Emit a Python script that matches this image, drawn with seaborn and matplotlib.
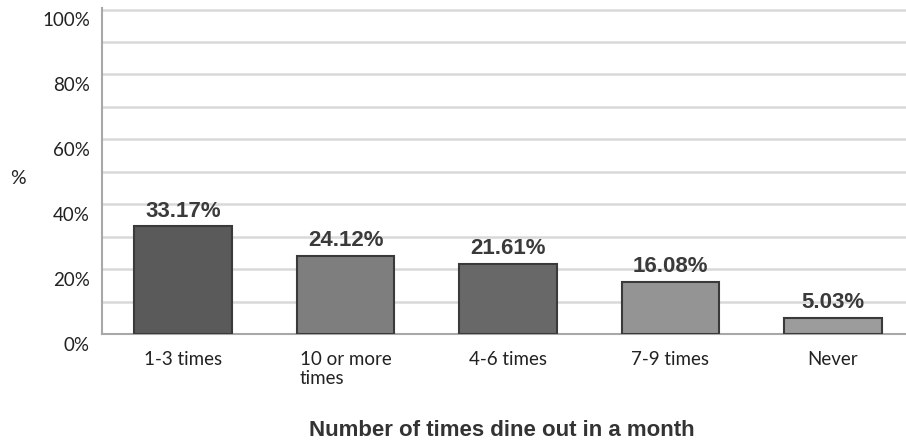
import matplotlib
matplotlib.use("Agg")
import matplotlib.pyplot as plt
from matplotlib.transforms import ScaledTranslation
import seaborn as sns
import pandas as pd

categories = ["1-3 times", "10 or more\ntimes", "4-6 times", "7-9 times", "Never"]
shares = [33.17, 24.12, 21.61, 16.08, 5.03]
bar_colors = ["#5a5a5a", "#7e7e7e", "#686868", "#949494", "#9c9c9c"]
ytick_values = [0, 20, 40, 60, 80, 100]
ytick_labels = ["0%", "20%", "40%", "60%", "80%", "100%"]

df = pd.DataFrame({"category": categories, "share": shares})

sns.set_style("white")
plt.rcParams["font.family"] = ["Lato", "DejaVu Sans"]

fig = plt.figure(figsize=(9.06, 4.48), dpi=100)
ax = fig.add_axes([102 / 906, 1 - 334 / 448, 804 / 906, 326 / 448])

sns.barplot(data=df, x="category", y="share", hue="category",
            palette=bar_colors, legend=False, width=0.6,
            edgecolor="#3a3a3a", linewidth=1.5, ax=ax, zorder=3)

# light gridlines every 10%
for v in range(10, 101, 10):
    ax.axhline(v, color="#d9d9d9", lw=1.8, zorder=1)

ax.set_xlim(-0.5, 4.45)
ax.set_ylim(0, 100.5)

# y labels sit a little below their gridlines
ax.set_yticks(ytick_values)
ax.set_yticklabels([])
ax.tick_params(axis="y", length=0)
label_shift = ScaledTranslation(-12 / 100, -11 / 100, fig.dpi_scale_trans)
for v, t in zip(ytick_values, ytick_labels):
    ax.text(0, v, t, transform=ax.get_yaxis_transform() + label_shift,
            ha="right", va="center", fontsize=13.5, color="#222222")

ax.set_xticks(range(len(categories)))
ax.set_xticklabels(categories, fontsize=13.5, color="#222222")
for lbl in ax.get_xticklabels():
    lbl.set_multialignment("left")
ax.tick_params(axis="x", length=0, pad=12)

for spine in ["top", "right"]:
    ax.spines[spine].set_visible(False)
ax.spines["left"].set_color("#a8a8a8")
ax.spines["left"].set_linewidth(1.5)
ax.spines["bottom"].set_color("#a8a8a8")
ax.spines["bottom"].set_linewidth(1.5)

for i, v in enumerate(shares):
    ax.text(i, v + 1.5, f"{v:.2f}%", ha="center", va="bottom",
            fontsize=16, fontweight="bold", color="#3a3a3a",
            family=["Liberation Sans", "DejaVu Sans"], zorder=4)

ax.set_xlabel("")
ax.set_ylabel("")
fig.text(18 / 906, 1 - 178 / 448, "%", fontsize=14, color="#222222",
         ha="center", va="center")
fig.text(502 / 906, 1 - 430 / 448, "Number of times dine out in a month",
         fontsize=16, fontweight="bold", color="#333333", ha="center",
         va="center", family=["Liberation Sans", "DejaVu Sans"])

fig.savefig("out.png", dpi=100)
